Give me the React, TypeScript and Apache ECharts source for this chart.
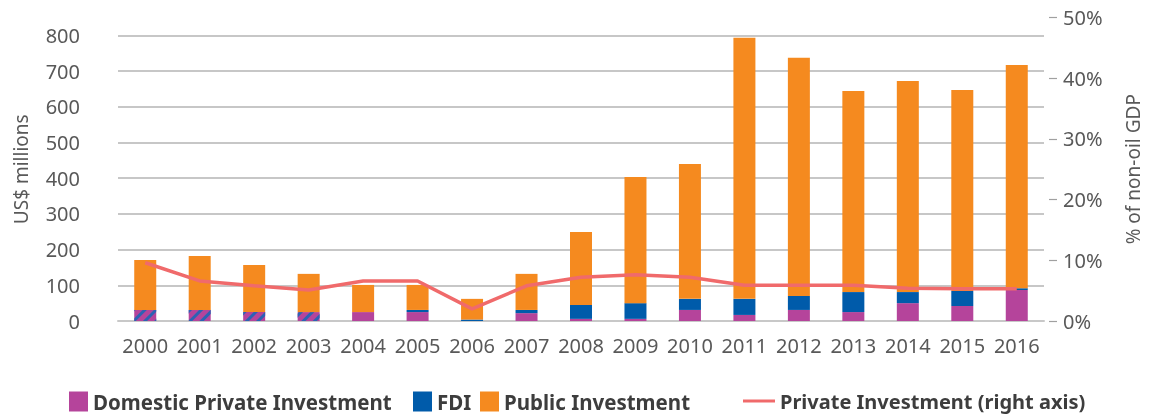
import React, { useEffect, useRef } from "react";
import * as echarts from "echarts";

const years = ["2000","2001","2002","2003","2004","2005","2006","2007","2008","2009","2010","2011","2012","2013","2014","2015","2016"];
const domestic = [31, 31, 25, 25, 25, 25, 0, 22, 6, 6, 31, 17, 31, 25, 50, 42, 87];
const fdi = [0, 0, 0, 0, 0, 6, 4, 9, 39, 44, 31, 45, 39, 56, 31, 42, 5];
const publicInv = [140, 151, 132, 107, 76, 70, 58, 101, 204, 353, 378, 731, 667, 563, 591, 563, 625];
const privateShare = [9.6, 6.6, 5.8, 5.1, 6.6, 6.6, 2.0, 5.8, 7.2, 7.6, 7.2, 5.9, 5.9, 5.9, 5.4, 5.3, 5.3];
const hatchedYears = ["2000", "2001", "2002", "2003"];

const FONT = "Noto Sans";
const MAGENTA = "#B5449B";
const BLUE = "#005BAA";
const ORANGE = "#F58A1F";
const RED = "#F06A6B";

const legendText = (size: number) => ({ fontFamily: FONT, fontSize: size, fontWeight: "bold", color: "#3d3d3d" });

export default function App() {
  const ref = useRef<HTMLDivElement>(null);
  useEffect(() => {
    if (!ref.current) return;
    const chart = echarts.init(ref.current, null, { renderer: "svg" });
    const domesticData = domestic.map((v, i) =>
      hatchedYears.includes(years[i])
        ? {
            value: v,
            itemStyle: {
              decal: {
                symbol: "rect",
                symbolSize: 1,
                dashArrayX: [1, 0],
                dashArrayY: [3, 5],
                rotation: -Math.PI / 4,
                color: "#2c62b4",
              },
            },
          }
        : v
    );
    const sq = { itemWidth: 19, itemHeight: 20, icon: "rect", top: 386 };
    chart.setOption({
      animation: false,
      textStyle: { fontFamily: FONT },
      grid: { left: 118, right: 97, top: 17.5, bottom: 98, containLabel: false },
      legend: [
        { ...sq, left: 64, data: ["Domestic Private Investment"], textStyle: legendText(20.5) },
        { ...sq, left: 408, data: ["FDI"], textStyle: legendText(20.5) },
        { ...sq, left: 475, data: ["Public Investment"], textStyle: legendText(20.5) },
        {
          left: 738,
          top: 386,
          itemWidth: 32,
          itemHeight: 3,
          icon: "rect",
          data: [{ name: "Private Investment (right axis)", icon: "rect" }],
          textStyle: legendText(20),
        },
      ],
      xAxis: {
        type: "category",
        data: years,
        axisLine: { show: true, lineStyle: { color: "#c8c8c8", width: 2 } },
        axisTick: { show: false },
        axisLabel: { color: "#595959", fontSize: 20, margin: 14, fontFamily: FONT, interval: 0 },
      },
      yAxis: [
        {
          type: "value",
          min: 0,
          max: 850,
          interval: 100,
          name: "US$ millions",
          nameLocation: "middle",
          nameRotate: 90,
          nameGap: 88,
          nameTextStyle: { color: "#595959", fontSize: 19, fontFamily: FONT },
          axisLine: { show: false },
          axisTick: { show: false },
          axisLabel: {
            color: "#595959",
            fontSize: 20,
            margin: 38,
            fontFamily: FONT,
            showMaxLabel: false,
            formatter: (v: number) => (v > 800 ? "" : String(v)),
          },
          splitLine: { show: true, showMaxLine: false, lineStyle: { color: "#b5b5b5", width: 1.5 } },
        },
        {
          type: "value",
          min: 0,
          max: 50,
          interval: 10,
          position: "right",
          offset: 5,
          name: "% of non-oil GDP",
          nameLocation: "middle",
          nameRotate: 90,
          nameGap: 74,
          nameTextStyle: { color: "#595959", fontSize: 19, fontFamily: FONT },
          axisLine: { show: false },
          axisTick: { show: true, length: 8, lineStyle: { color: "#a0a0a0", width: 1.2 } },
          axisLabel: { color: "#595959", fontSize: 20, margin: 14, fontFamily: FONT, formatter: "{value}%" },
          splitLine: { show: false },
        },
      ],
      series: [
        {
          name: "Domestic Private Investment",
          type: "bar",
          stack: "inv",
          barWidth: 22,
          itemStyle: { color: MAGENTA },
          data: domesticData,
        },
        {
          name: "FDI",
          type: "bar",
          stack: "inv",
          barWidth: 22,
          itemStyle: { color: BLUE },
          data: fdi,
        },
        {
          name: "Public Investment",
          type: "bar",
          stack: "inv",
          barWidth: 22,
          itemStyle: { color: ORANGE },
          data: publicInv,
        },
        {
          name: "Private Investment (right axis)",
          type: "line",
          yAxisIndex: 1,
          symbol: "none",
          showSymbol: false,
          lineStyle: { color: RED, width: 3.5 },
          itemStyle: { color: RED },
          data: privateShare,
          z: 5,
        },
      ],
    });
    return () => chart.dispose();
  }, []);
  return <div ref={ref} style={{ position: "fixed", left: 0, top: 0, width: 1150, height: 419 }} />;
}
